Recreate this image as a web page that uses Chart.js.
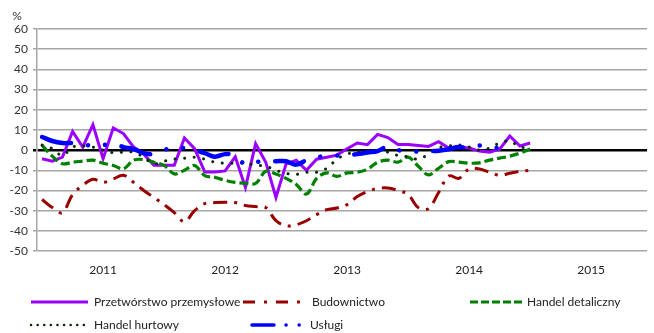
<!DOCTYPE html>
<html>
<head>
<meta charset="utf-8">
<script src="https://cdn.jsdelivr.net/npm/chart.js@4.4.0/dist/chart.umd.min.js"></script>
<style>
  html, body { margin: 0; padding: 0; background: #fff; }
  #wrap { width: 654px; height: 333px; }
</style>
</head>
<body>
<div id="wrap"><canvas id="koniunktura" width="654" height="333"></canvas></div>
<script>
// Wskaźniki koniunktury wg sekcji, dane miesięczne (%)
const lata = ['2011', '2012', '2013', '2014', '2015'];
const miesiace = [];
lata.forEach(r => { for (let m = 1; m <= 12; m++) miesiace.push(r + '-' + String(m).padStart(2, '0')); });

const przetworstwo = [
  -4.3, -5.5, -3.5, 9.2, 1.5, 12.6, -4.3, 11, 8.2, 1.5, -2, -7.5,
  -7.5, -7.5, 6, 0.7, -10.8, -10.8, -10.3, -3.3, -18.5, 3.2, -6, -23.5,
  -6.8, -5, -10, -4.5, -3.5, -2.5, 0.7, 3.5, 2.7, 7.8, 6.2, 2.8,
  2.8, 2.3, 1.8, 4.2, 1, 1.5, 1, -0.5, -1, 0.5, 7, 2, 3.5
];
const budownictwo = [
  -24.5, -28.5, -31, -22, -17.5, -14.5, -16, -14.3, -12.5, -16, -20, -23.5,
  -27, -31, -35.5, -30, -26.5, -26, -25.8, -26, -27.5, -28, -28.5, -35,
  -37.5, -37, -35, -32, -29.5, -28.7, -27, -23, -20.5, -19, -18.8, -20,
  -22, -28.5, -29, -21, -12.8, -14, -9.3, -9.3, -11, -12.5, -11.5, -10.5, -10
];
const handelDetaliczny = [
  2.3, -3, -6.8, -6, -5.5, -5, -6.5, -7.6, -9.3, -5, -4.7, -6,
  -7.6, -11.8, -10, -7.6, -12.6, -13.5, -15, -16, -16.5, -16.5, -10.5, -11.8,
  -14, -17, -21.8, -14, -11.3, -13, -11.3, -11, -9.5, -6, -5, -6,
  -3.5, -8, -12.3, -9, -5.7, -6, -6.5, -6.3, -5, -4, -3, -1.5, 0.5
];
const handelHurtowy = [
  2.5, 0.7, -2.7, 1.5, 2, 1.5, 0, -1.3, -1, -1, -3.5, -6.8,
  -5.5, -4.5, -4, -3.5, -4.5, -6, -6.5, -6.5, -6.5, -7.5, -8, -10,
  -11.5, -12, -11, -11, -9, -4.5, -2, -0.8, -0.5, -0.5, -1, -2.7,
  -3.3, -4.5, -2, 1.2, 2, 2.5, 1.5, 0, 1, 3.5, 4.5, 1.5, 1.5
];
const uslugi = [
  6.5, 4.5, 3.5, 3.5, 3, 2, 2.5, 3.2, 1.5, 0.5, -1.5, -2,
  0, 1.5, 1, 0, -1.5, -3.3, -2, -2.5, -7.2, -6, -5.5, -5.5,
  -5.5, -7.2, -5, -3.5, -3, -2.7, -2.5, -2, -1.2, -0.5, 1.8, 0,
  -0.5, -0.7, -0.5, -0.3, 0.5, 1.5, 1, 2.3, 1.5, 1, 1.5
];

const FONT = 'Lato, "Open Sans", sans-serif';

// legenda w dwóch wierszach pod osią X
const legendaPola = [
  { ds: 0, x1: 31, x2: 88, tx: 94, y: 302 },
  { ds: 1, x1: 243, x2: 300, tx: 312, y: 302 },
  { ds: 2, x1: 470, x2: 522, tx: 527, y: 302 },
  { ds: 3, x1: 31, x2: 86, tx: 94, y: 325 },
  { ds: 4, x1: 252, x2: 301, tx: 310, y: 325 }
];

const legendaPlugin = {
  id: 'legendaWlasna',
  afterDraw(chart) {
    const ctx = chart.ctx;
    ctx.save();
    // jednostka osi Y
    ctx.font = '12px ' + FONT;
    ctx.fillStyle = '#333';
    ctx.textAlign = 'center';
    ctx.textBaseline = 'middle';
    ctx.fillText('%', 17, 16);

    legendaPola.forEach(p => {
      const ds = chart.data.datasets[p.ds];
      ctx.beginPath();
      ctx.strokeStyle = ds.borderColor;
      ctx.lineWidth = ds.legendWidth || ds.borderWidth;
      ctx.lineCap = ds.borderCapStyle || 'butt';
      ctx.setLineDash(ds.legendDash || []);
      ctx.moveTo(p.x1, p.y);
      ctx.lineTo(p.x2, p.y);
      ctx.stroke();
      ctx.setLineDash([]);
      ctx.fillStyle = '#222';
      ctx.textAlign = 'left';
      ctx.fillText(ds.label, p.tx, p.y);
    });
    ctx.restore();
  }
};

new Chart(document.getElementById('koniunktura'), {
  type: 'line',
  data: {
    labels: miesiace,
    datasets: [
      {
        label: 'Przetwórstwo przemysłowe',
        data: przetworstwo,
        borderColor: '#9b00ff',
        borderWidth: 3,
        tension: 0,
        order: 5
      },
      {
        label: 'Budownictwo',
        data: budownictwo,
        borderColor: '#990000',
        borderWidth: 3,
        borderDash: [14, 7, 3, 7],
        legendDash: [12, 9, 3, 9],
        tension: 0.35,
        order: 4
      },
      {
        label: 'Handel detaliczny',
        data: handelDetaliczny,
        borderColor: '#008000',
        borderWidth: 3.2,
        borderDash: [9, 4],
        legendDash: [8, 3],
        tension: 0.35,
        order: 3
      },
      {
        label: 'Handel hurtowy',
        data: handelHurtowy,
        borderColor: '#0b2a0b',
        borderWidth: 3,
        borderCapStyle: 'round',
        borderDash: [0.1, 9.5],
        legendDash: [0.1, 6.5],
        legendWidth: 2.5,
        tension: 0.35,
        order: 2
      },
      {
        label: 'Usługi',
        data: uslugi,
        borderColor: '#0000ff',
        borderWidth: 4.5,
        borderCapStyle: 'round',
        borderDash: [30, 17, 0.1, 17, 0.1, 17],
        legendDash: [22, 12, 0.1, 13, 0.1, 20],
        legendWidth: 3.5,
        tension: 0.35,
        order: 1
      }
    ]
  },
  options: {
    responsive: false,
    animation: false,
    devicePixelRatio: 1,
    layout: { padding: { top: 29, right: 1, bottom: 52, left: 0 } },
    elements: { point: { radius: 0, hoverRadius: 0 } },
    plugins: {
      legend: { display: false },
      tooltip: { enabled: false }
    },
    scales: {
      x: {
        offset: true,
        afterFit(s) { s.height = 30; },
        grid: { display: false, drawTicks: false, offset: true },
        border: { display: false },
        ticks: {
          autoSkip: false,
          maxRotation: 0,
          padding: 12,
          color: '#222',
          font: { family: FONT, size: 12 },
          callback(v, i) { return i % 12 === 6 ? this.getLabelForValue(v).slice(0, 4) : ''; }
        }
      },
      y: {
        min: -50,
        max: 60,
        afterFit(s) { s.width = 37; },
        ticks: {
          stepSize: 10,
          padding: 5,
          color: '#333',
          font: { family: FONT, size: 12 }
        },
        grid: {
          tickLength: 4,
          color: c => (c.tick && c.tick.value === 0 ? '#000' : '#a6a6a6'),
          lineWidth: c => (c.tick && c.tick.value === 0 ? 2.5 : 1.5)
        },
        border: { display: true, color: '#a6a6a6', width: 1.5 }
      }
    }
  },
  plugins: [legendaPlugin]
});
</script>
</body>
</html>
